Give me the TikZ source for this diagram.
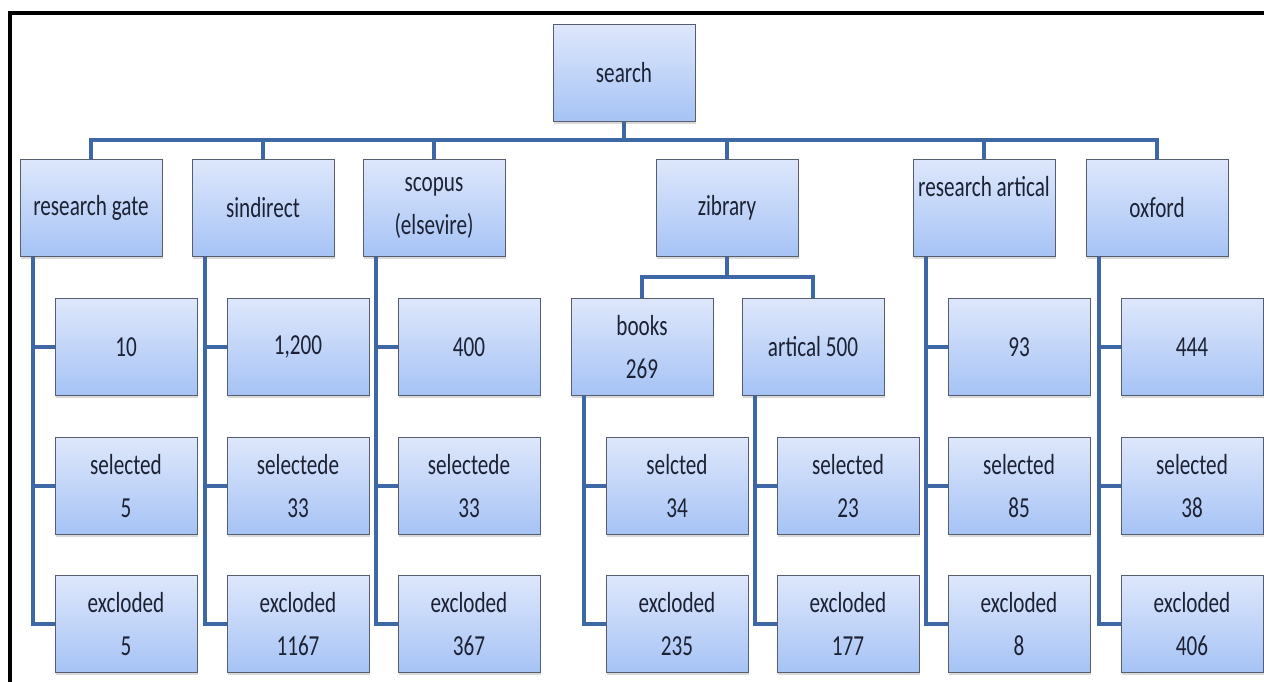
\documentclass[tikz,border=0pt]{standalone}
\usepackage{fontspec}
\setmainfont{Carlito}[FakeStretch=0.73]
\usetikzlibrary{shadows}

\definecolor{linkblue}{RGB}{62,104,165}
\definecolor{boxtop}{RGB}{222,231,251}
\definecolor{boxbot}{RGB}{166,195,245}
\definecolor{boxline}{RGB}{85,93,110}
\definecolor{boxtext}{RGB}{28,34,52}

\begin{document}
\begin{tikzpicture}[x=0.02cm, y=-0.02cm,
  box/.style={draw=boxline, line width=0.5pt, top color=boxtop, bottom color=boxbot,
    minimum width=2.84cm, minimum height=1.94cm, inner sep=0pt, align=center,
    text=boxtext, font=\fontsize{16.5}{24.4}\selectfont,
    drop shadow={shadow xshift=0.8pt, shadow yshift=-1.5pt, opacity=0.3}},
  link/.style={draw=linkblue, line width=2.3pt}]
\useasboundingbox (0,0) rectangle (1264,682);

% frame
\draw[line width=1.9pt] (10,682) -- (10,13) -- (1264,13);

% top and sources
\node[box] (search) at (624,73) {search};
\node[box] (rg) at (91,208) {research gate};
\node[box] (sd) at (263,208) {sindirect};
\node[box] (sc) at (434,208) {scopus\\(elsevire)};
\node[box] (zb) at (727,208) {zibrary};
\node[box] (ra) at (984,208) {research artical\\\mbox{}};
\node[box] (ox) at (1157,208) {oxford};

% first row
\node[box] (rg1) at (126,347) {10};
\node[box] (sd1) at (298,347) {1,200};
\node[box] (sc1) at (469,347) {400};
\node[box] (bk) at (642,347) {books\\269};
\node[box] (ar) at (813,347) {artical 500};
\node[box] (ra1) at (1019,347) {93};
\node[box] (ox1) at (1192,347) {444};

% selected / excloded rows
\foreach \n/\x/\sa/\sb/\ea in {rg/126/selected/5/5, sd/298/selectede/33/1167,
    sc/469/selectede/33/367, bk/677/selcted/34/235, ar/848/selected/23/177,
    ra/1019/selected/85/8, ox/1192/selected/38/406} {
  \node[box] (\n2) at (\x,486) {\sa\\\sb};
  \node[box] (\n3) at (\x,624) {excloded\\\ea};
}

% connectors
\foreach \c in {rg,sd,sc,zb,ra,ox}
  \draw[link] (search.south) -- ++(0,18) -| (\c.north);
\draw[link] (zb.south) -- ++(0,20) -| (bk.north);
\draw[link] (zb.south) -- ++(0,20) -| (ar.north);
\foreach \p in {rg,sd,sc,ra,ox}
  \foreach \r in {1,2,3}
    \draw[link] ([xshift=0.26cm]\p.south west) |- (\p\r.west);
\foreach \p in {bk,ar}
  \foreach \r in {2,3}
    \draw[link] ([xshift=0.26cm]\p.south west) |- (\p\r.west);
\end{tikzpicture}
\end{document}
